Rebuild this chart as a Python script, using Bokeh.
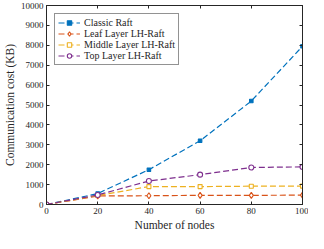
from bokeh.plotting import figure
from bokeh.models import (LinearAxis, FixedTicker, Range1d, Legend, LegendItem,
                          CustomLabelingPolicy)
from bokeh.embed import file_html
from bokeh.resources import INLINE

nodes = [0, 20, 40, 60, 80, 100]
classic = [0, 550, 1750, 3200, 5200, 7950]
leaf = [0, 430, 440, 460, 460, 470]
middle = [0, 450, 900, 900, 920, 925]
top = [0, 480, 1180, 1500, 1860, 1890]
names = ["Classic Raft", "Leaf Layer LH-Raft", "Middle Layer LH-Raft", "Top Layer LH-Raft"]
colors = ["#0072BD", "#D95319", "#EDB120", "#7E2F8E"]
x_ticks = [0, 20, 40, 60, 80, 100]
y_ticks = list(range(0, 10001, 1000))

FONT = "Liberation Serif"
INK = "#262626"

p = figure(width=308, height=233, output_backend="svg", toolbar_location=None,
           x_range=Range1d(0, 100), y_range=Range1d(0, 10000),
           min_border_left=2, min_border_right=6, min_border_top=5, min_border_bottom=1)
p.xgrid.visible = False
p.ygrid.visible = False
p.outline_line_color = INK
p.outline_line_width = 0.8

for ax, ticks in ((p.xaxis[0], x_ticks), (p.yaxis[0], y_ticks)):
    ax.ticker = FixedTicker(ticks=ticks)
    ax.major_tick_in = 3
    ax.major_tick_out = 0
    ax.minor_tick_line_color = None
    ax.axis_line_color = INK
    ax.major_tick_line_color = INK
    ax.major_label_text_font = FONT
    ax.major_label_text_font_size = "9px"
    ax.major_label_text_color = INK
    ax.axis_label_text_font = FONT
    ax.axis_label_text_font_size = "11.5px"
    ax.axis_label_text_font_style = "normal"
    ax.axis_label_text_color = INK
    ax.major_label_standoff = 3
    ax.axis_label_standoff = 2
p.xaxis[0].axis_label = "Number of nodes"
p.yaxis[0].axis_label = "Communication cost (KB)"

no_labels = "const n = indices.size; for (let i = 0; i < n; i++) { indices.unset(i) } return indices"
for loc, ticks in (("above", x_ticks), ("right", y_ticks)):
    a = LinearAxis(ticker=FixedTicker(ticks=ticks), major_tick_in=3, major_tick_out=0,
                   minor_tick_line_color=None,
                   major_label_policy=CustomLabelingPolicy(code=no_labels),
                   major_label_text_font_size="0px",
                   major_label_standoff=0, axis_line_color=INK,
                   major_tick_line_color=INK)
    p.add_layout(a, loc)

series = [classic, leaf, middle, top]
markers = ["square", "diamond", "square", "circle"]
sizes = [3.5, 6, 4, 5]
fills = [colors[0], "white", "white", "white"]
items = []
for s, name, c, m, sz, f in zip(series, names, colors, markers, sizes, fills):
    l = p.line(nodes, s, line_color=c, line_width=1.2, line_dash="6 3")
    sc = p.scatter(nodes, s, marker=m, size=sz, line_color=c, fill_color=f, line_width=1.1)
    items.append(LegendItem(label=name, renderers=[l, sc]))

legend = Legend(items=items, location="top_left", label_text_font=FONT,
                label_text_font_size="10px", label_text_color=INK,
                border_line_color=INK, border_line_width=0.8,
                padding=3, spacing=0, glyph_width=22, glyph_height=11,
                label_height=11, label_standoff=4, margin=8)
p.add_layout(legend)

open("out.html", "w").write(file_html(p, INLINE))
